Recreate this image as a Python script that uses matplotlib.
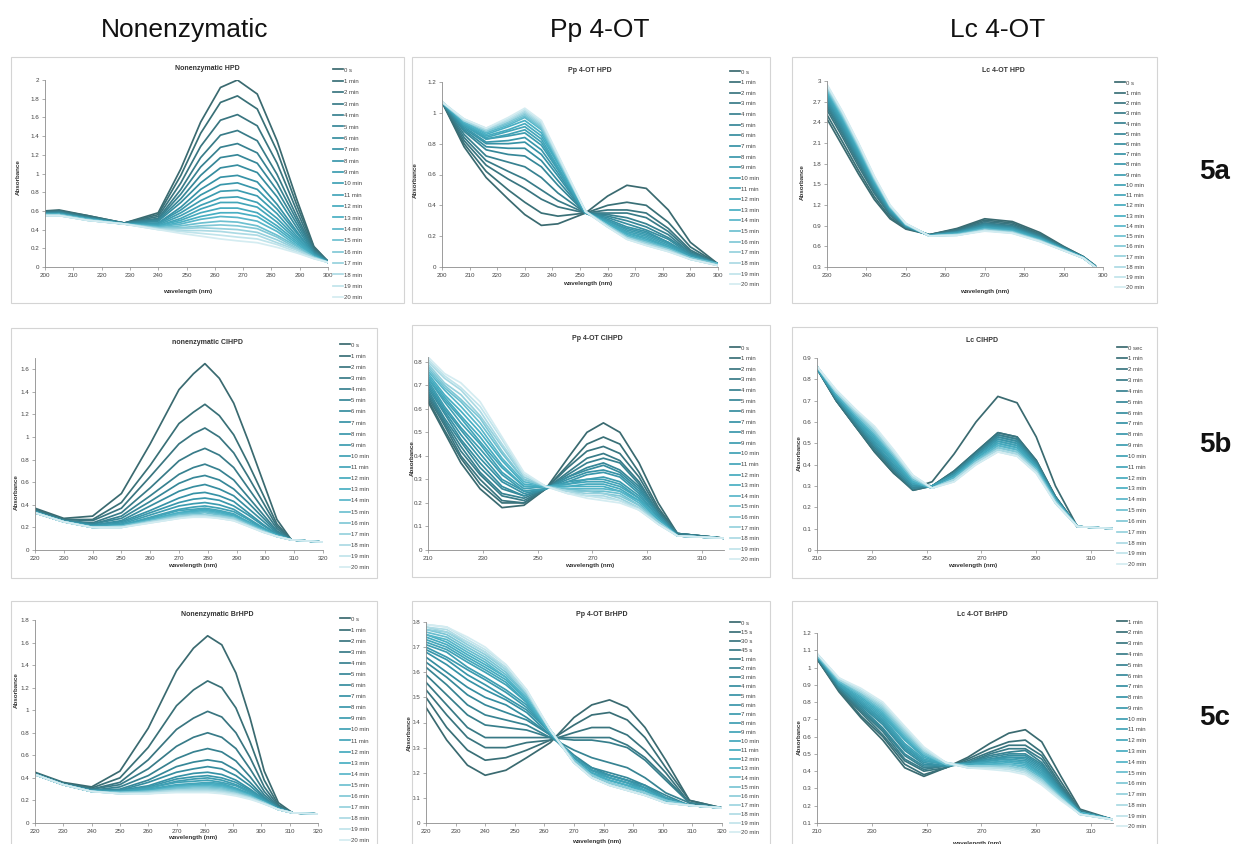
import matplotlib.pyplot as plt
from matplotlib.colors import LinearSegmentedColormap
from matplotlib.patches import Rectangle
from matplotlib.ticker import FuncFormatter

plt.rcParams['font.family'] = ['Liberation Sans', 'DejaVu Sans']

W, H = 1240, 844

# legend labels
min_labels = ['0 s'] + ['%d min' % m for m in range(1, 21)]
sec_labels = ['0 sec'] + ['%d min' % m for m in range(1, 21)]
fast_labels = ['0 s', '15 s', '30 s', '45 s'] + ['%d min' % m for m in range(1, 21)]
late_labels = ['%d min' % m for m in range(1, 21)]

col_titles = ['Nonenzymatic', 'Pp 4-OT', 'Lc 4-OT']
row_titles = ['5a', '5b', '5c']

# ---- Nonenzymatic HPD ----
wl1 = [200, 205, 215, 228, 240, 248, 255, 262, 268, 275, 282, 289, 295, 300]
abs1 = [
    [0.60, 0.61, 0.55, 0.47, 0.58, 1.05, 1.55, 1.92, 2.00, 1.85, 1.35, 0.72, 0.22, 0.06],
    [0.60, 0.60, 0.55, 0.47, 0.56, 0.98, 1.43, 1.76, 1.83, 1.69, 1.24, 0.66, 0.21, 0.06],
    [0.59, 0.60, 0.54, 0.47, 0.54, 0.90, 1.29, 1.57, 1.63, 1.51, 1.11, 0.60, 0.19, 0.06],
    [0.58, 0.59, 0.53, 0.47, 0.52, 0.83, 1.17, 1.41, 1.46, 1.35, 0.99, 0.54, 0.18, 0.06],
    [0.58, 0.59, 0.53, 0.47, 0.51, 0.78, 1.07, 1.28, 1.32, 1.22, 0.90, 0.50, 0.17, 0.06],
    [0.58, 0.58, 0.53, 0.47, 0.50, 0.73, 0.98, 1.17, 1.20, 1.11, 0.82, 0.46, 0.16, 0.06],
    [0.57, 0.58, 0.52, 0.46, 0.49, 0.69, 0.90, 1.06, 1.09, 1.01, 0.75, 0.42, 0.15, 0.05],
    [0.57, 0.57, 0.52, 0.46, 0.47, 0.64, 0.83, 0.96, 0.98, 0.91, 0.67, 0.38, 0.14, 0.05],
    [0.57, 0.57, 0.52, 0.46, 0.47, 0.61, 0.77, 0.88, 0.90, 0.83, 0.62, 0.36, 0.14, 0.05],
    [0.57, 0.57, 0.52, 0.46, 0.46, 0.58, 0.71, 0.81, 0.82, 0.76, 0.57, 0.33, 0.13, 0.05],
    [0.56, 0.57, 0.51, 0.46, 0.45, 0.55, 0.66, 0.74, 0.75, 0.69, 0.52, 0.31, 0.13, 0.05],
    [0.56, 0.56, 0.51, 0.46, 0.44, 0.52, 0.62, 0.69, 0.69, 0.64, 0.48, 0.29, 0.12, 0.05],
    [0.56, 0.56, 0.51, 0.46, 0.44, 0.50, 0.58, 0.63, 0.63, 0.58, 0.44, 0.27, 0.12, 0.05],
    [0.56, 0.56, 0.51, 0.46, 0.43, 0.48, 0.54, 0.58, 0.58, 0.54, 0.41, 0.25, 0.11, 0.05],
    [0.56, 0.56, 0.51, 0.46, 0.43, 0.46, 0.51, 0.54, 0.53, 0.49, 0.38, 0.23, 0.11, 0.05],
    [0.56, 0.56, 0.51, 0.46, 0.42, 0.44, 0.47, 0.49, 0.48, 0.44, 0.34, 0.22, 0.11, 0.05],
    [0.55, 0.56, 0.50, 0.46, 0.42, 0.42, 0.44, 0.45, 0.44, 0.41, 0.32, 0.20, 0.10, 0.05],
    [0.55, 0.55, 0.50, 0.46, 0.41, 0.41, 0.42, 0.41, 0.40, 0.37, 0.29, 0.19, 0.10, 0.05],
    [0.55, 0.55, 0.50, 0.46, 0.41, 0.39, 0.39, 0.38, 0.36, 0.34, 0.26, 0.18, 0.10, 0.05],
    [0.55, 0.55, 0.50, 0.46, 0.40, 0.38, 0.36, 0.34, 0.32, 0.30, 0.24, 0.16, 0.09, 0.05],
    [0.55, 0.55, 0.50, 0.46, 0.40, 0.36, 0.33, 0.30, 0.28, 0.26, 0.21, 0.15, 0.09, 0.05],
]

# ---- Pp 4-OT HPD ----
wl2 = [200, 208, 216, 224, 230, 236, 242, 252, 260, 267, 274, 282, 290, 300]
abs2 = [
    [1.07, 0.78, 0.58, 0.44, 0.34, 0.27, 0.28, 0.35, 0.46, 0.53, 0.51, 0.37, 0.16, 0.02],
    [1.07, 0.80, 0.62, 0.50, 0.42, 0.35, 0.33, 0.35, 0.40, 0.42, 0.40, 0.29, 0.13, 0.02],
    [1.07, 0.82, 0.66, 0.57, 0.51, 0.44, 0.39, 0.35, 0.37, 0.37, 0.35, 0.25, 0.11, 0.02],
    [1.07, 0.84, 0.69, 0.62, 0.57, 0.50, 0.43, 0.35, 0.35, 0.35, 0.32, 0.23, 0.10, 0.02],
    [1.07, 0.86, 0.72, 0.68, 0.65, 0.58, 0.48, 0.35, 0.34, 0.32, 0.28, 0.21, 0.09, 0.02],
    [1.07, 0.88, 0.76, 0.73, 0.72, 0.65, 0.53, 0.35, 0.33, 0.30, 0.26, 0.19, 0.09, 0.02],
    [1.07, 0.89, 0.78, 0.77, 0.77, 0.69, 0.56, 0.35, 0.32, 0.28, 0.24, 0.18, 0.08, 0.02],
    [1.07, 0.90, 0.80, 0.80, 0.81, 0.73, 0.59, 0.35, 0.31, 0.26, 0.23, 0.16, 0.08, 0.02],
    [1.07, 0.91, 0.81, 0.82, 0.84, 0.76, 0.61, 0.35, 0.30, 0.25, 0.22, 0.16, 0.07, 0.02],
    [1.07, 0.92, 0.83, 0.85, 0.87, 0.79, 0.63, 0.35, 0.30, 0.24, 0.21, 0.15, 0.07, 0.02],
    [1.07, 0.92, 0.83, 0.86, 0.89, 0.81, 0.64, 0.35, 0.29, 0.23, 0.20, 0.14, 0.07, 0.02],
    [1.07, 0.93, 0.84, 0.88, 0.91, 0.83, 0.65, 0.35, 0.29, 0.22, 0.19, 0.13, 0.06, 0.02],
    [1.07, 0.93, 0.85, 0.89, 0.93, 0.85, 0.67, 0.36, 0.28, 0.22, 0.18, 0.13, 0.06, 0.02],
    [1.07, 0.94, 0.86, 0.91, 0.95, 0.87, 0.68, 0.36, 0.28, 0.21, 0.17, 0.12, 0.06, 0.02],
    [1.07, 0.94, 0.87, 0.92, 0.97, 0.89, 0.69, 0.36, 0.27, 0.20, 0.17, 0.12, 0.06, 0.02],
    [1.07, 0.95, 0.88, 0.93, 0.98, 0.90, 0.70, 0.36, 0.27, 0.20, 0.16, 0.12, 0.06, 0.02],
    [1.07, 0.95, 0.88, 0.94, 0.99, 0.91, 0.70, 0.36, 0.27, 0.19, 0.16, 0.11, 0.06, 0.01],
    [1.07, 0.95, 0.89, 0.95, 1.00, 0.92, 0.71, 0.36, 0.27, 0.19, 0.15, 0.11, 0.05, 0.01],
    [1.07, 0.95, 0.89, 0.95, 1.01, 0.93, 0.72, 0.36, 0.26, 0.19, 0.15, 0.11, 0.05, 0.01],
    [1.07, 0.96, 0.90, 0.96, 1.02, 0.94, 0.72, 0.36, 0.26, 0.18, 0.14, 0.10, 0.05, 0.01],
    [1.07, 0.96, 0.90, 0.97, 1.03, 0.95, 0.73, 0.36, 0.26, 0.18, 0.14, 0.10, 0.05, 0.01],
]

# ---- Lc 4-OT HPD ----
wl3 = [230, 234, 238, 242, 246, 250, 256, 263, 270, 277, 284, 290, 295, 298]
abs3 = [
    [2.45, 2.05, 1.65, 1.28, 1.00, 0.85, 0.77, 0.86, 1.00, 0.96, 0.80, 0.60, 0.45, 0.32],
    [2.51, 2.11, 1.70, 1.32, 1.02, 0.86, 0.77, 0.85, 0.98, 0.94, 0.78, 0.59, 0.45, 0.32],
    [2.58, 2.18, 1.76, 1.37, 1.05, 0.87, 0.77, 0.84, 0.96, 0.92, 0.77, 0.59, 0.45, 0.32],
    [2.62, 2.22, 1.80, 1.39, 1.07, 0.88, 0.76, 0.83, 0.94, 0.90, 0.76, 0.58, 0.44, 0.31],
    [2.65, 2.25, 1.83, 1.42, 1.08, 0.88, 0.76, 0.82, 0.93, 0.89, 0.75, 0.58, 0.44, 0.31],
    [2.68, 2.28, 1.86, 1.44, 1.09, 0.89, 0.76, 0.81, 0.92, 0.88, 0.74, 0.57, 0.44, 0.31],
    [2.71, 2.31, 1.88, 1.45, 1.10, 0.89, 0.76, 0.81, 0.91, 0.87, 0.73, 0.57, 0.44, 0.31],
    [2.73, 2.33, 1.90, 1.47, 1.11, 0.89, 0.76, 0.80, 0.90, 0.86, 0.73, 0.57, 0.44, 0.31],
    [2.76, 2.36, 1.92, 1.49, 1.12, 0.90, 0.76, 0.80, 0.89, 0.86, 0.72, 0.56, 0.44, 0.31],
    [2.78, 2.38, 1.94, 1.50, 1.13, 0.90, 0.76, 0.80, 0.88, 0.85, 0.72, 0.56, 0.44, 0.31],
    [2.80, 2.40, 1.96, 1.51, 1.14, 0.91, 0.76, 0.79, 0.88, 0.84, 0.71, 0.56, 0.44, 0.31],
    [2.82, 2.42, 1.98, 1.53, 1.15, 0.91, 0.76, 0.79, 0.87, 0.84, 0.71, 0.56, 0.44, 0.31],
    [2.84, 2.44, 2.00, 1.54, 1.15, 0.91, 0.75, 0.78, 0.86, 0.83, 0.70, 0.55, 0.43, 0.30],
    [2.85, 2.45, 2.01, 1.55, 1.16, 0.91, 0.75, 0.78, 0.86, 0.82, 0.70, 0.55, 0.43, 0.30],
    [2.87, 2.47, 2.02, 1.56, 1.17, 0.92, 0.75, 0.78, 0.85, 0.82, 0.69, 0.55, 0.43, 0.30],
    [2.88, 2.48, 2.04, 1.57, 1.17, 0.92, 0.75, 0.77, 0.85, 0.81, 0.69, 0.55, 0.43, 0.30],
    [2.90, 2.50, 2.05, 1.58, 1.18, 0.92, 0.75, 0.77, 0.84, 0.81, 0.68, 0.55, 0.43, 0.30],
    [2.91, 2.51, 2.06, 1.59, 1.18, 0.92, 0.75, 0.77, 0.83, 0.80, 0.68, 0.54, 0.43, 0.30],
    [2.93, 2.53, 2.08, 1.60, 1.19, 0.93, 0.75, 0.76, 0.83, 0.80, 0.68, 0.54, 0.43, 0.30],
    [2.94, 2.54, 2.09, 1.61, 1.19, 0.93, 0.75, 0.76, 0.83, 0.79, 0.67, 0.54, 0.43, 0.30],
    [2.95, 2.55, 2.10, 1.62, 1.20, 0.93, 0.75, 0.76, 0.82, 0.79, 0.67, 0.54, 0.43, 0.30],
]

# ---- Nonenzymatic ClHPD ----
wl4 = [220, 230, 240, 250, 260, 270, 275, 279, 284, 289, 294, 299, 304, 309, 320]
abs4 = [
    [0.37, 0.28, 0.30, 0.50, 0.94, 1.42, 1.56, 1.65, 1.52, 1.30, 0.97, 0.62, 0.27, 0.09, 0.07],
    [0.36, 0.27, 0.27, 0.42, 0.75, 1.12, 1.22, 1.29, 1.19, 1.02, 0.77, 0.50, 0.23, 0.09, 0.07],
    [0.35, 0.27, 0.26, 0.37, 0.65, 0.94, 1.03, 1.08, 1.00, 0.86, 0.65, 0.43, 0.21, 0.09, 0.07],
    [0.35, 0.26, 0.24, 0.33, 0.55, 0.79, 0.86, 0.90, 0.84, 0.73, 0.55, 0.37, 0.19, 0.09, 0.07],
    [0.34, 0.26, 0.23, 0.30, 0.48, 0.67, 0.73, 0.76, 0.71, 0.62, 0.47, 0.32, 0.17, 0.09, 0.07],
    [0.34, 0.26, 0.23, 0.28, 0.43, 0.59, 0.64, 0.66, 0.62, 0.54, 0.42, 0.29, 0.16, 0.09, 0.07],
    [0.34, 0.26, 0.22, 0.26, 0.39, 0.52, 0.56, 0.58, 0.54, 0.48, 0.37, 0.26, 0.15, 0.09, 0.07],
    [0.34, 0.25, 0.22, 0.25, 0.35, 0.46, 0.50, 0.51, 0.48, 0.43, 0.33, 0.23, 0.14, 0.09, 0.07],
    [0.34, 0.25, 0.21, 0.24, 0.33, 0.42, 0.45, 0.46, 0.44, 0.39, 0.31, 0.22, 0.14, 0.09, 0.07],
    [0.33, 0.25, 0.21, 0.23, 0.31, 0.39, 0.41, 0.42, 0.40, 0.36, 0.28, 0.20, 0.13, 0.09, 0.07],
    [0.33, 0.25, 0.21, 0.22, 0.29, 0.36, 0.38, 0.39, 0.37, 0.34, 0.27, 0.19, 0.13, 0.09, 0.07],
    [0.33, 0.25, 0.21, 0.22, 0.28, 0.35, 0.36, 0.37, 0.35, 0.32, 0.25, 0.19, 0.13, 0.09, 0.07],
    [0.33, 0.25, 0.20, 0.21, 0.27, 0.33, 0.35, 0.36, 0.34, 0.31, 0.25, 0.18, 0.13, 0.09, 0.07],
    [0.33, 0.25, 0.20, 0.21, 0.27, 0.33, 0.34, 0.35, 0.33, 0.30, 0.24, 0.18, 0.13, 0.09, 0.07],
    [0.33, 0.25, 0.20, 0.21, 0.26, 0.32, 0.33, 0.34, 0.32, 0.29, 0.24, 0.18, 0.12, 0.09, 0.07],
    [0.33, 0.25, 0.20, 0.21, 0.26, 0.31, 0.32, 0.33, 0.31, 0.29, 0.23, 0.17, 0.12, 0.09, 0.07],
    [0.33, 0.25, 0.20, 0.21, 0.25, 0.30, 0.31, 0.31, 0.30, 0.28, 0.22, 0.17, 0.12, 0.09, 0.07],
    [0.33, 0.25, 0.20, 0.20, 0.25, 0.30, 0.31, 0.31, 0.30, 0.28, 0.22, 0.17, 0.12, 0.09, 0.07],
    [0.33, 0.25, 0.20, 0.20, 0.25, 0.29, 0.30, 0.30, 0.29, 0.27, 0.22, 0.16, 0.12, 0.09, 0.07],
    [0.33, 0.25, 0.20, 0.20, 0.24, 0.28, 0.30, 0.30, 0.28, 0.26, 0.21, 0.16, 0.12, 0.09, 0.07],
    [0.33, 0.25, 0.20, 0.20, 0.24, 0.28, 0.29, 0.29, 0.28, 0.26, 0.21, 0.16, 0.12, 0.09, 0.07],
]

# ---- Pp 4-OT ClHPD ----
wl5 = [210, 216, 222, 229, 237, 245, 253, 261, 268, 274, 280, 287, 294, 301, 318]
abs5 = [
    [0.63, 0.50, 0.37, 0.26, 0.18, 0.19, 0.26, 0.39, 0.50, 0.54, 0.50, 0.37, 0.20, 0.07, 0.05],
    [0.64, 0.51, 0.39, 0.28, 0.20, 0.20, 0.26, 0.36, 0.45, 0.48, 0.45, 0.33, 0.18, 0.07, 0.05],
    [0.65, 0.53, 0.40, 0.30, 0.21, 0.20, 0.26, 0.35, 0.42, 0.44, 0.41, 0.31, 0.17, 0.07, 0.05],
    [0.66, 0.54, 0.42, 0.32, 0.23, 0.21, 0.26, 0.33, 0.39, 0.41, 0.38, 0.29, 0.16, 0.07, 0.05],
    [0.67, 0.55, 0.44, 0.33, 0.24, 0.22, 0.26, 0.32, 0.37, 0.39, 0.37, 0.28, 0.16, 0.07, 0.05],
    [0.68, 0.56, 0.46, 0.35, 0.26, 0.23, 0.26, 0.31, 0.35, 0.37, 0.34, 0.27, 0.15, 0.06, 0.05],
    [0.69, 0.58, 0.47, 0.37, 0.27, 0.23, 0.26, 0.31, 0.34, 0.36, 0.33, 0.26, 0.15, 0.06, 0.05],
    [0.70, 0.59, 0.49, 0.39, 0.29, 0.24, 0.26, 0.30, 0.33, 0.34, 0.32, 0.25, 0.15, 0.06, 0.05],
    [0.71, 0.60, 0.51, 0.41, 0.30, 0.25, 0.26, 0.29, 0.32, 0.33, 0.31, 0.24, 0.14, 0.06, 0.05],
    [0.72, 0.61, 0.52, 0.43, 0.32, 0.25, 0.26, 0.29, 0.30, 0.31, 0.29, 0.23, 0.14, 0.06, 0.05],
    [0.73, 0.63, 0.54, 0.45, 0.33, 0.26, 0.27, 0.28, 0.30, 0.30, 0.28, 0.22, 0.13, 0.06, 0.05],
    [0.73, 0.64, 0.56, 0.46, 0.35, 0.27, 0.27, 0.28, 0.29, 0.29, 0.27, 0.22, 0.13, 0.06, 0.05],
    [0.74, 0.65, 0.57, 0.48, 0.36, 0.27, 0.27, 0.27, 0.28, 0.28, 0.26, 0.21, 0.13, 0.06, 0.05],
    [0.75, 0.66, 0.59, 0.50, 0.38, 0.28, 0.27, 0.27, 0.27, 0.27, 0.25, 0.21, 0.13, 0.06, 0.05],
    [0.76, 0.68, 0.61, 0.52, 0.39, 0.29, 0.27, 0.26, 0.26, 0.26, 0.25, 0.20, 0.12, 0.06, 0.05],
    [0.77, 0.69, 0.63, 0.54, 0.41, 0.30, 0.27, 0.26, 0.25, 0.25, 0.24, 0.19, 0.12, 0.06, 0.05],
    [0.78, 0.70, 0.64, 0.56, 0.42, 0.30, 0.27, 0.25, 0.25, 0.24, 0.23, 0.19, 0.12, 0.06, 0.05],
    [0.79, 0.71, 0.66, 0.57, 0.44, 0.31, 0.27, 0.25, 0.24, 0.24, 0.22, 0.18, 0.12, 0.06, 0.05],
    [0.80, 0.73, 0.68, 0.59, 0.45, 0.32, 0.27, 0.25, 0.23, 0.23, 0.21, 0.18, 0.11, 0.06, 0.05],
    [0.81, 0.74, 0.69, 0.61, 0.47, 0.32, 0.27, 0.24, 0.23, 0.22, 0.21, 0.17, 0.11, 0.06, 0.05],
    [0.82, 0.75, 0.71, 0.63, 0.48, 0.33, 0.27, 0.24, 0.22, 0.21, 0.20, 0.17, 0.11, 0.06, 0.05],
]

# ---- Lc ClHPD ----
wl6 = [210, 217, 224, 231, 238, 245, 252, 260, 268, 276, 283, 290, 297, 305, 318]
abs6 = [
    [0.85, 0.70, 0.58, 0.46, 0.36, 0.29, 0.32, 0.45, 0.60, 0.72, 0.69, 0.53, 0.30, 0.11, 0.10],
    [0.85, 0.70, 0.58, 0.46, 0.36, 0.28, 0.30, 0.37, 0.46, 0.55, 0.53, 0.42, 0.25, 0.11, 0.10],
    [0.85, 0.70, 0.58, 0.47, 0.37, 0.28, 0.30, 0.37, 0.46, 0.55, 0.53, 0.42, 0.25, 0.11, 0.10],
    [0.85, 0.71, 0.59, 0.47, 0.37, 0.29, 0.30, 0.36, 0.45, 0.54, 0.52, 0.41, 0.25, 0.11, 0.10],
    [0.85, 0.71, 0.59, 0.48, 0.38, 0.29, 0.30, 0.36, 0.45, 0.54, 0.52, 0.41, 0.25, 0.11, 0.10],
    [0.85, 0.71, 0.60, 0.49, 0.38, 0.29, 0.30, 0.36, 0.45, 0.53, 0.51, 0.41, 0.24, 0.11, 0.10],
    [0.85, 0.71, 0.60, 0.49, 0.39, 0.30, 0.30, 0.36, 0.44, 0.53, 0.51, 0.40, 0.24, 0.11, 0.10],
    [0.85, 0.72, 0.61, 0.50, 0.39, 0.30, 0.30, 0.35, 0.44, 0.52, 0.50, 0.40, 0.24, 0.11, 0.10],
    [0.85, 0.72, 0.61, 0.50, 0.40, 0.31, 0.30, 0.35, 0.44, 0.52, 0.50, 0.40, 0.24, 0.11, 0.10],
    [0.85, 0.72, 0.61, 0.51, 0.41, 0.31, 0.30, 0.35, 0.43, 0.51, 0.49, 0.39, 0.24, 0.11, 0.10],
    [0.85, 0.72, 0.62, 0.52, 0.41, 0.31, 0.30, 0.35, 0.43, 0.51, 0.49, 0.39, 0.24, 0.11, 0.10],
    [0.86, 0.73, 0.62, 0.52, 0.42, 0.32, 0.29, 0.34, 0.43, 0.50, 0.48, 0.39, 0.23, 0.11, 0.10],
    [0.86, 0.73, 0.63, 0.53, 0.42, 0.32, 0.29, 0.34, 0.43, 0.50, 0.48, 0.39, 0.23, 0.11, 0.10],
    [0.86, 0.73, 0.63, 0.54, 0.43, 0.32, 0.29, 0.34, 0.42, 0.49, 0.47, 0.38, 0.23, 0.11, 0.10],
    [0.86, 0.73, 0.63, 0.54, 0.44, 0.33, 0.29, 0.34, 0.42, 0.49, 0.47, 0.38, 0.23, 0.11, 0.10],
    [0.86, 0.74, 0.64, 0.55, 0.44, 0.33, 0.29, 0.33, 0.42, 0.48, 0.46, 0.38, 0.23, 0.11, 0.10],
    [0.86, 0.74, 0.64, 0.55, 0.45, 0.34, 0.29, 0.33, 0.41, 0.48, 0.46, 0.37, 0.23, 0.11, 0.10],
    [0.86, 0.74, 0.65, 0.56, 0.45, 0.34, 0.29, 0.33, 0.41, 0.47, 0.45, 0.37, 0.22, 0.11, 0.10],
    [0.86, 0.74, 0.65, 0.57, 0.46, 0.34, 0.29, 0.33, 0.41, 0.47, 0.45, 0.37, 0.22, 0.11, 0.10],
    [0.86, 0.75, 0.66, 0.57, 0.46, 0.35, 0.29, 0.32, 0.40, 0.46, 0.44, 0.36, 0.22, 0.11, 0.10],
    [0.86, 0.75, 0.66, 0.58, 0.47, 0.35, 0.29, 0.32, 0.40, 0.46, 0.44, 0.36, 0.22, 0.11, 0.10],
]

# ---- Nonenzymatic BrHPD ----
wl7 = [220, 230, 240, 250, 260, 270, 276, 281, 286, 291, 296, 301, 306, 311, 320]
abs7 = [
    [0.45, 0.36, 0.32, 0.46, 0.84, 1.35, 1.55, 1.66, 1.58, 1.33, 0.93, 0.46, 0.18, 0.09, 0.08],
    [0.44, 0.35, 0.31, 0.40, 0.67, 1.04, 1.18, 1.26, 1.20, 1.02, 0.72, 0.38, 0.16, 0.09, 0.08],
    [0.44, 0.35, 0.30, 0.36, 0.56, 0.83, 0.93, 0.99, 0.94, 0.80, 0.58, 0.32, 0.15, 0.09, 0.08],
    [0.44, 0.35, 0.30, 0.34, 0.48, 0.68, 0.76, 0.80, 0.76, 0.66, 0.48, 0.28, 0.14, 0.09, 0.08],
    [0.44, 0.35, 0.29, 0.32, 0.42, 0.57, 0.63, 0.66, 0.63, 0.55, 0.41, 0.25, 0.14, 0.09, 0.08],
    [0.43, 0.34, 0.29, 0.30, 0.38, 0.50, 0.54, 0.56, 0.54, 0.47, 0.36, 0.23, 0.13, 0.09, 0.08],
    [0.43, 0.34, 0.29, 0.29, 0.36, 0.45, 0.48, 0.50, 0.48, 0.42, 0.33, 0.22, 0.13, 0.09, 0.08],
    [0.43, 0.34, 0.29, 0.29, 0.33, 0.41, 0.44, 0.45, 0.43, 0.38, 0.30, 0.21, 0.13, 0.09, 0.08],
    [0.43, 0.34, 0.28, 0.28, 0.32, 0.39, 0.41, 0.42, 0.40, 0.36, 0.29, 0.20, 0.13, 0.09, 0.08],
    [0.43, 0.34, 0.28, 0.28, 0.31, 0.37, 0.39, 0.40, 0.38, 0.34, 0.28, 0.20, 0.13, 0.09, 0.08],
    [0.43, 0.34, 0.28, 0.28, 0.31, 0.36, 0.37, 0.38, 0.36, 0.33, 0.27, 0.19, 0.12, 0.09, 0.08],
    [0.43, 0.34, 0.28, 0.27, 0.30, 0.34, 0.35, 0.36, 0.35, 0.31, 0.26, 0.19, 0.12, 0.09, 0.08],
    [0.43, 0.34, 0.28, 0.27, 0.29, 0.33, 0.34, 0.35, 0.34, 0.30, 0.25, 0.19, 0.12, 0.09, 0.08],
    [0.43, 0.34, 0.28, 0.27, 0.29, 0.32, 0.33, 0.34, 0.33, 0.29, 0.25, 0.18, 0.12, 0.09, 0.08],
    [0.43, 0.34, 0.28, 0.27, 0.28, 0.32, 0.33, 0.33, 0.32, 0.29, 0.24, 0.18, 0.12, 0.09, 0.08],
    [0.43, 0.34, 0.28, 0.27, 0.28, 0.31, 0.32, 0.32, 0.31, 0.28, 0.24, 0.18, 0.12, 0.09, 0.08],
    [0.43, 0.34, 0.28, 0.27, 0.28, 0.30, 0.31, 0.31, 0.30, 0.27, 0.23, 0.18, 0.12, 0.09, 0.08],
    [0.43, 0.34, 0.28, 0.26, 0.27, 0.29, 0.30, 0.30, 0.29, 0.26, 0.23, 0.18, 0.12, 0.09, 0.08],
    [0.43, 0.34, 0.28, 0.26, 0.27, 0.29, 0.29, 0.29, 0.28, 0.26, 0.22, 0.17, 0.12, 0.09, 0.08],
    [0.43, 0.34, 0.28, 0.26, 0.26, 0.28, 0.28, 0.28, 0.27, 0.25, 0.22, 0.17, 0.12, 0.09, 0.08],
    [0.43, 0.34, 0.28, 0.26, 0.26, 0.27, 0.27, 0.27, 0.26, 0.24, 0.21, 0.17, 0.12, 0.09, 0.08],
]

# ---- Pp 4-OT BrHPD ----
wl8 = [220, 227, 234, 240, 247, 254, 262, 270, 276, 282, 288, 294, 301, 309, 320]
abs8 = [
    [0.46, 0.33, 0.23, 0.19, 0.21, 0.26, 0.32, 0.42, 0.47, 0.49, 0.46, 0.38, 0.25, 0.09, 0.06],
    [0.50, 0.38, 0.29, 0.25, 0.26, 0.29, 0.33, 0.39, 0.43, 0.44, 0.41, 0.34, 0.22, 0.09, 0.06],
    [0.53, 0.43, 0.34, 0.30, 0.30, 0.32, 0.33, 0.36, 0.38, 0.38, 0.35, 0.29, 0.20, 0.08, 0.06],
    [0.56, 0.47, 0.38, 0.34, 0.34, 0.34, 0.34, 0.34, 0.34, 0.34, 0.31, 0.26, 0.18, 0.08, 0.06],
    [0.59, 0.51, 0.43, 0.39, 0.38, 0.37, 0.34, 0.33, 0.33, 0.32, 0.30, 0.25, 0.17, 0.08, 0.06],
    [0.62, 0.55, 0.47, 0.43, 0.41, 0.39, 0.34, 0.29, 0.26, 0.24, 0.22, 0.18, 0.12, 0.08, 0.06],
    [0.64, 0.58, 0.51, 0.47, 0.44, 0.41, 0.35, 0.27, 0.22, 0.20, 0.18, 0.15, 0.11, 0.07, 0.06],
    [0.66, 0.60, 0.54, 0.50, 0.47, 0.42, 0.35, 0.26, 0.22, 0.19, 0.17, 0.15, 0.10, 0.07, 0.06],
    [0.68, 0.63, 0.57, 0.53, 0.49, 0.44, 0.35, 0.26, 0.21, 0.19, 0.17, 0.14, 0.10, 0.07, 0.06],
    [0.69, 0.65, 0.59, 0.55, 0.50, 0.45, 0.36, 0.26, 0.21, 0.19, 0.17, 0.14, 0.10, 0.07, 0.06],
    [0.70, 0.66, 0.61, 0.57, 0.52, 0.46, 0.36, 0.26, 0.21, 0.18, 0.16, 0.14, 0.10, 0.07, 0.06],
    [0.71, 0.68, 0.62, 0.58, 0.53, 0.47, 0.36, 0.26, 0.21, 0.18, 0.16, 0.13, 0.10, 0.07, 0.06],
    [0.72, 0.69, 0.64, 0.60, 0.55, 0.48, 0.36, 0.25, 0.20, 0.18, 0.16, 0.13, 0.09, 0.07, 0.06],
    [0.73, 0.70, 0.65, 0.61, 0.56, 0.48, 0.36, 0.25, 0.20, 0.17, 0.15, 0.13, 0.09, 0.07, 0.06],
    [0.74, 0.71, 0.66, 0.62, 0.57, 0.49, 0.36, 0.25, 0.20, 0.17, 0.15, 0.13, 0.09, 0.07, 0.06],
    [0.75, 0.72, 0.67, 0.63, 0.58, 0.49, 0.36, 0.25, 0.19, 0.17, 0.15, 0.12, 0.09, 0.07, 0.06],
    [0.75, 0.73, 0.68, 0.64, 0.58, 0.50, 0.36, 0.25, 0.19, 0.16, 0.14, 0.12, 0.09, 0.07, 0.06],
    [0.76, 0.74, 0.69, 0.65, 0.59, 0.51, 0.37, 0.25, 0.19, 0.16, 0.14, 0.12, 0.09, 0.07, 0.06],
    [0.77, 0.75, 0.70, 0.66, 0.60, 0.51, 0.37, 0.25, 0.19, 0.16, 0.14, 0.12, 0.09, 0.07, 0.06],
    [0.77, 0.76, 0.71, 0.67, 0.61, 0.52, 0.37, 0.24, 0.19, 0.16, 0.14, 0.12, 0.08, 0.07, 0.06],
    [0.78, 0.76, 0.72, 0.68, 0.61, 0.52, 0.37, 0.24, 0.18, 0.15, 0.13, 0.11, 0.08, 0.07, 0.06],
    [0.78, 0.77, 0.72, 0.68, 0.62, 0.52, 0.37, 0.24, 0.18, 0.15, 0.13, 0.11, 0.08, 0.07, 0.06],
    [0.79, 0.78, 0.73, 0.69, 0.63, 0.53, 0.37, 0.24, 0.18, 0.15, 0.13, 0.11, 0.08, 0.07, 0.06],
    [0.79, 0.78, 0.74, 0.70, 0.63, 0.53, 0.37, 0.24, 0.18, 0.15, 0.13, 0.11, 0.08, 0.07, 0.06],
]

# ---- Lc 4-OT BrHPD ----
wl9 = [210, 218, 226, 234, 242, 249, 257, 265, 273, 280, 286, 292, 299, 306, 318]
abs9 = [
    [1.05, 0.86, 0.71, 0.58, 0.42, 0.37, 0.42, 0.48, 0.56, 0.62, 0.64, 0.57, 0.37, 0.18, 0.12],
    [1.05, 0.87, 0.72, 0.60, 0.44, 0.38, 0.42, 0.47, 0.53, 0.57, 0.58, 0.51, 0.34, 0.17, 0.12],
    [1.05, 0.87, 0.74, 0.61, 0.46, 0.40, 0.42, 0.46, 0.51, 0.55, 0.55, 0.49, 0.32, 0.17, 0.12],
    [1.06, 0.88, 0.75, 0.63, 0.47, 0.41, 0.43, 0.45, 0.50, 0.53, 0.53, 0.47, 0.31, 0.17, 0.12],
    [1.06, 0.88, 0.76, 0.64, 0.49, 0.42, 0.43, 0.45, 0.49, 0.51, 0.52, 0.45, 0.30, 0.17, 0.12],
    [1.06, 0.89, 0.77, 0.65, 0.50, 0.43, 0.43, 0.45, 0.48, 0.50, 0.50, 0.44, 0.29, 0.16, 0.12],
    [1.06, 0.89, 0.78, 0.67, 0.52, 0.44, 0.43, 0.45, 0.47, 0.49, 0.49, 0.43, 0.29, 0.16, 0.12],
    [1.06, 0.90, 0.79, 0.68, 0.53, 0.45, 0.43, 0.44, 0.47, 0.48, 0.48, 0.42, 0.28, 0.16, 0.12],
    [1.07, 0.90, 0.80, 0.69, 0.54, 0.46, 0.44, 0.44, 0.46, 0.48, 0.47, 0.41, 0.28, 0.16, 0.12],
    [1.07, 0.90, 0.80, 0.70, 0.55, 0.46, 0.44, 0.44, 0.46, 0.47, 0.46, 0.40, 0.27, 0.16, 0.12],
    [1.07, 0.91, 0.81, 0.71, 0.56, 0.47, 0.44, 0.44, 0.45, 0.46, 0.45, 0.39, 0.27, 0.16, 0.12],
    [1.07, 0.91, 0.82, 0.72, 0.58, 0.48, 0.44, 0.44, 0.45, 0.46, 0.45, 0.38, 0.27, 0.16, 0.12],
    [1.07, 0.92, 0.83, 0.73, 0.59, 0.49, 0.44, 0.43, 0.44, 0.45, 0.44, 0.37, 0.26, 0.16, 0.12],
    [1.07, 0.92, 0.84, 0.74, 0.60, 0.50, 0.44, 0.43, 0.44, 0.44, 0.43, 0.37, 0.26, 0.16, 0.12],
    [1.07, 0.92, 0.84, 0.75, 0.61, 0.50, 0.44, 0.43, 0.43, 0.44, 0.42, 0.36, 0.25, 0.15, 0.12],
    [1.07, 0.93, 0.85, 0.76, 0.62, 0.51, 0.44, 0.43, 0.43, 0.43, 0.41, 0.35, 0.25, 0.15, 0.12],
    [1.08, 0.93, 0.86, 0.77, 0.63, 0.52, 0.45, 0.43, 0.43, 0.42, 0.41, 0.35, 0.24, 0.15, 0.12],
    [1.08, 0.93, 0.86, 0.78, 0.64, 0.52, 0.45, 0.42, 0.42, 0.42, 0.40, 0.34, 0.24, 0.15, 0.12],
    [1.08, 0.94, 0.87, 0.79, 0.65, 0.53, 0.45, 0.42, 0.42, 0.41, 0.39, 0.33, 0.24, 0.15, 0.12],
    [1.08, 0.94, 0.88, 0.80, 0.66, 0.54, 0.45, 0.42, 0.41, 0.40, 0.38, 0.32, 0.23, 0.15, 0.12],
]

cmap = LinearSegmentedColormap.from_list(
    'teal', ['#3a6a70', '#3591a5', '#49b0c4', '#d4ecf1'])

fig = plt.figure(figsize=(W / 100, H / 100), dpi=100)


def fx(x):
    return x / W


def fy(y):
    return 1 - y / H


def panel(wl, rows, labels, title, box, plot, xlim, xticks, ylim, yticks,
          title_xy, xlab_xy, ylab_xy, leg):
    # chart border
    fig.add_artist(Rectangle((fx(box[0]), fy(box[3])), fx(box[2] - box[0]),
                             (box[3] - box[1]) / H, transform=fig.transFigure,
                             fill=False, ec='#d4d4d4', lw=0.8))
    x0, yt, x1, yb = plot
    ax = fig.add_axes([fx(x0), fy(yb), fx(x1 - x0), (yb - yt) / H])
    n = len(rows)
    for i, row in enumerate(rows):
        ax.plot(wl, row, color=cmap(i / (n - 1)), lw=1.25, label=labels[i],
                solid_joinstyle='round')
    ax.set_xlim(*xlim)
    ax.set_ylim(*ylim)
    ax.set_xticks(xticks)
    ax.set_yticks(yticks)
    fmt = FuncFormatter(lambda v, p: '%g' % round(v, 2))
    ax.xaxis.set_major_formatter(fmt)
    ax.yaxis.set_major_formatter(fmt)
    for s in ['top', 'right']:
        ax.spines[s].set_visible(False)
    for s in ['left', 'bottom']:
        ax.spines[s].set_color('#8c8c8c')
        ax.spines[s].set_linewidth(0.6)
    ax.tick_params(labelsize=4.5, length=2, width=0.5, colors='#8c8c8c',
                   labelcolor='#444444', pad=2)
    ax.patch.set_alpha(0)

    fig.text(fx(title_xy[0]), fy(title_xy[1]), title, fontsize=5,
             fontweight='bold', color='#333333', ha='center', va='center')
    fig.text(fx(xlab_xy[0]), fy(xlab_xy[1]), 'wavelength (nm)', fontsize=4.5,
             fontweight='bold', color='#333333', ha='center', va='center')
    fig.text(fx(ylab_xy[0]), fy(ylab_xy[1]), 'Absorbance', fontsize=4.5,
             fontweight='bold', color='#333333', ha='center', va='center',
             rotation=90)

    lx, ly, pitch = leg
    fs = 4.3
    row_h = 0.87 * fs / 0.72
    ax.legend(loc='upper left',
              bbox_to_anchor=(fx(lx), fy(ly - row_h / 2)),
              bbox_transform=fig.transFigure, frameon=False, fontsize=fs,
              handlelength=1.6, handletextpad=0.3,
              labelspacing=(pitch - row_h) * 0.72 / fs,
              borderpad=0, borderaxespad=0, labelcolor='#444444')
    return ax


panel(wl1, abs1, min_labels, 'Nonenzymatic HPD', (11, 57, 404, 303),
      (45, 80, 328, 267), (200, 300), range(200, 301, 10), (0, 2),
      [0, 0.2, 0.4, 0.6, 0.8, 1, 1.2, 1.4, 1.6, 1.8, 2],
      (207, 68), (188, 292), (18, 177), (333, 70, 11.4))

panel(wl2, abs2, min_labels, 'Pp 4-OT HPD', (412, 57, 770, 303),
      (442, 82, 718, 267), (200, 300), range(200, 301, 10), (0, 1.2),
      [0, 0.2, 0.4, 0.6, 0.8, 1, 1.2],
      (590, 70), (588, 283), (415, 180), (730, 72, 10.65))

panel(wl3, abs3, min_labels, 'Lc 4-OT HPD', (792, 57, 1157, 303),
      (827, 81, 1103, 267), (230, 300), range(230, 301, 10), (0.3, 3),
      [0.3, 0.6, 0.9, 1.2, 1.5, 1.8, 2.1, 2.4, 2.7, 3],
      (1003, 70), (985, 292), (802, 182), (1115, 83, 10.25))

panel(wl4, abs4, min_labels, 'nonenzymatic ClHPD', (11, 328, 377, 578),
      (35, 358, 323, 550), (220, 320), range(220, 321, 10), (0, 1.7),
      [0, 0.2, 0.4, 0.6, 0.8, 1, 1.2, 1.4, 1.6],
      (207, 342), (193, 566), (16, 492), (340, 345, 11.15))

panel(wl5, abs5, min_labels, 'Pp 4-OT ClHPD', (412, 325, 770, 577),
      (428, 357, 724, 550), (210, 318), range(210, 311, 20), (0, 0.82),
      [0, 0.1, 0.2, 0.3, 0.4, 0.5, 0.6, 0.7, 0.8],
      (597, 338), (590, 566), (412, 458), (730, 348, 10.6))

panel(wl6, abs6, sec_labels, 'Lc ClHPD', (792, 327, 1157, 578),
      (817, 358, 1113, 550), (210, 318), range(210, 311, 20), (0, 0.9),
      [0, 0.1, 0.2, 0.3, 0.4, 0.5, 0.6, 0.7, 0.8, 0.9],
      (982, 340), (973, 566), (799, 453), (1117, 348, 10.85))

panel(wl7, abs7, min_labels, 'Nonenzymatic BrHPD', (11, 601, 377, 850),
      (35, 620, 318, 823), (220, 320), range(220, 321, 10), (0, 1.8),
      [0, 0.2, 0.4, 0.6, 0.8, 1, 1.2, 1.4, 1.6, 1.8],
      (217, 615), (193, 838), (16, 690), (340, 619, 11.1))

panel(wl8, abs8, fast_labels, 'Pp 4-OT BrHPD', (412, 601, 770, 850),
      (426, 622, 722, 823), (220, 320), range(220, 321, 10), (0, 0.8),
      [0, 0.1, 0.2, 0.3, 0.4, 0.5, 0.6, 0.7, 0.8],
      (602, 615), (597, 842), (409, 733), (730, 623, 9.13))

panel(wl9, abs9, late_labels, 'Lc 4-OT BrHPD', (792, 601, 1157, 850),
      (817, 633, 1113, 823), (210, 318), range(210, 311, 20), (0.1, 1.2),
      [0.1, 0.2, 0.3, 0.4, 0.5, 0.6, 0.7, 0.8, 0.9, 1, 1.1, 1.2],
      (982, 615), (977, 843), (799, 737), (1117, 622, 10.8))

for x, t in zip([185, 600, 998], col_titles):
    fig.text(fx(x), fy(30), t, fontsize=19, ha='center', va='center',
             color='#111111')
for y, t in zip([172, 445, 718], row_titles):
    fig.text(fx(1215), fy(y), t, fontsize=20, fontweight='bold',
             ha='center', va='center', color='#111111')

fig.savefig('out.png', dpi=100)
